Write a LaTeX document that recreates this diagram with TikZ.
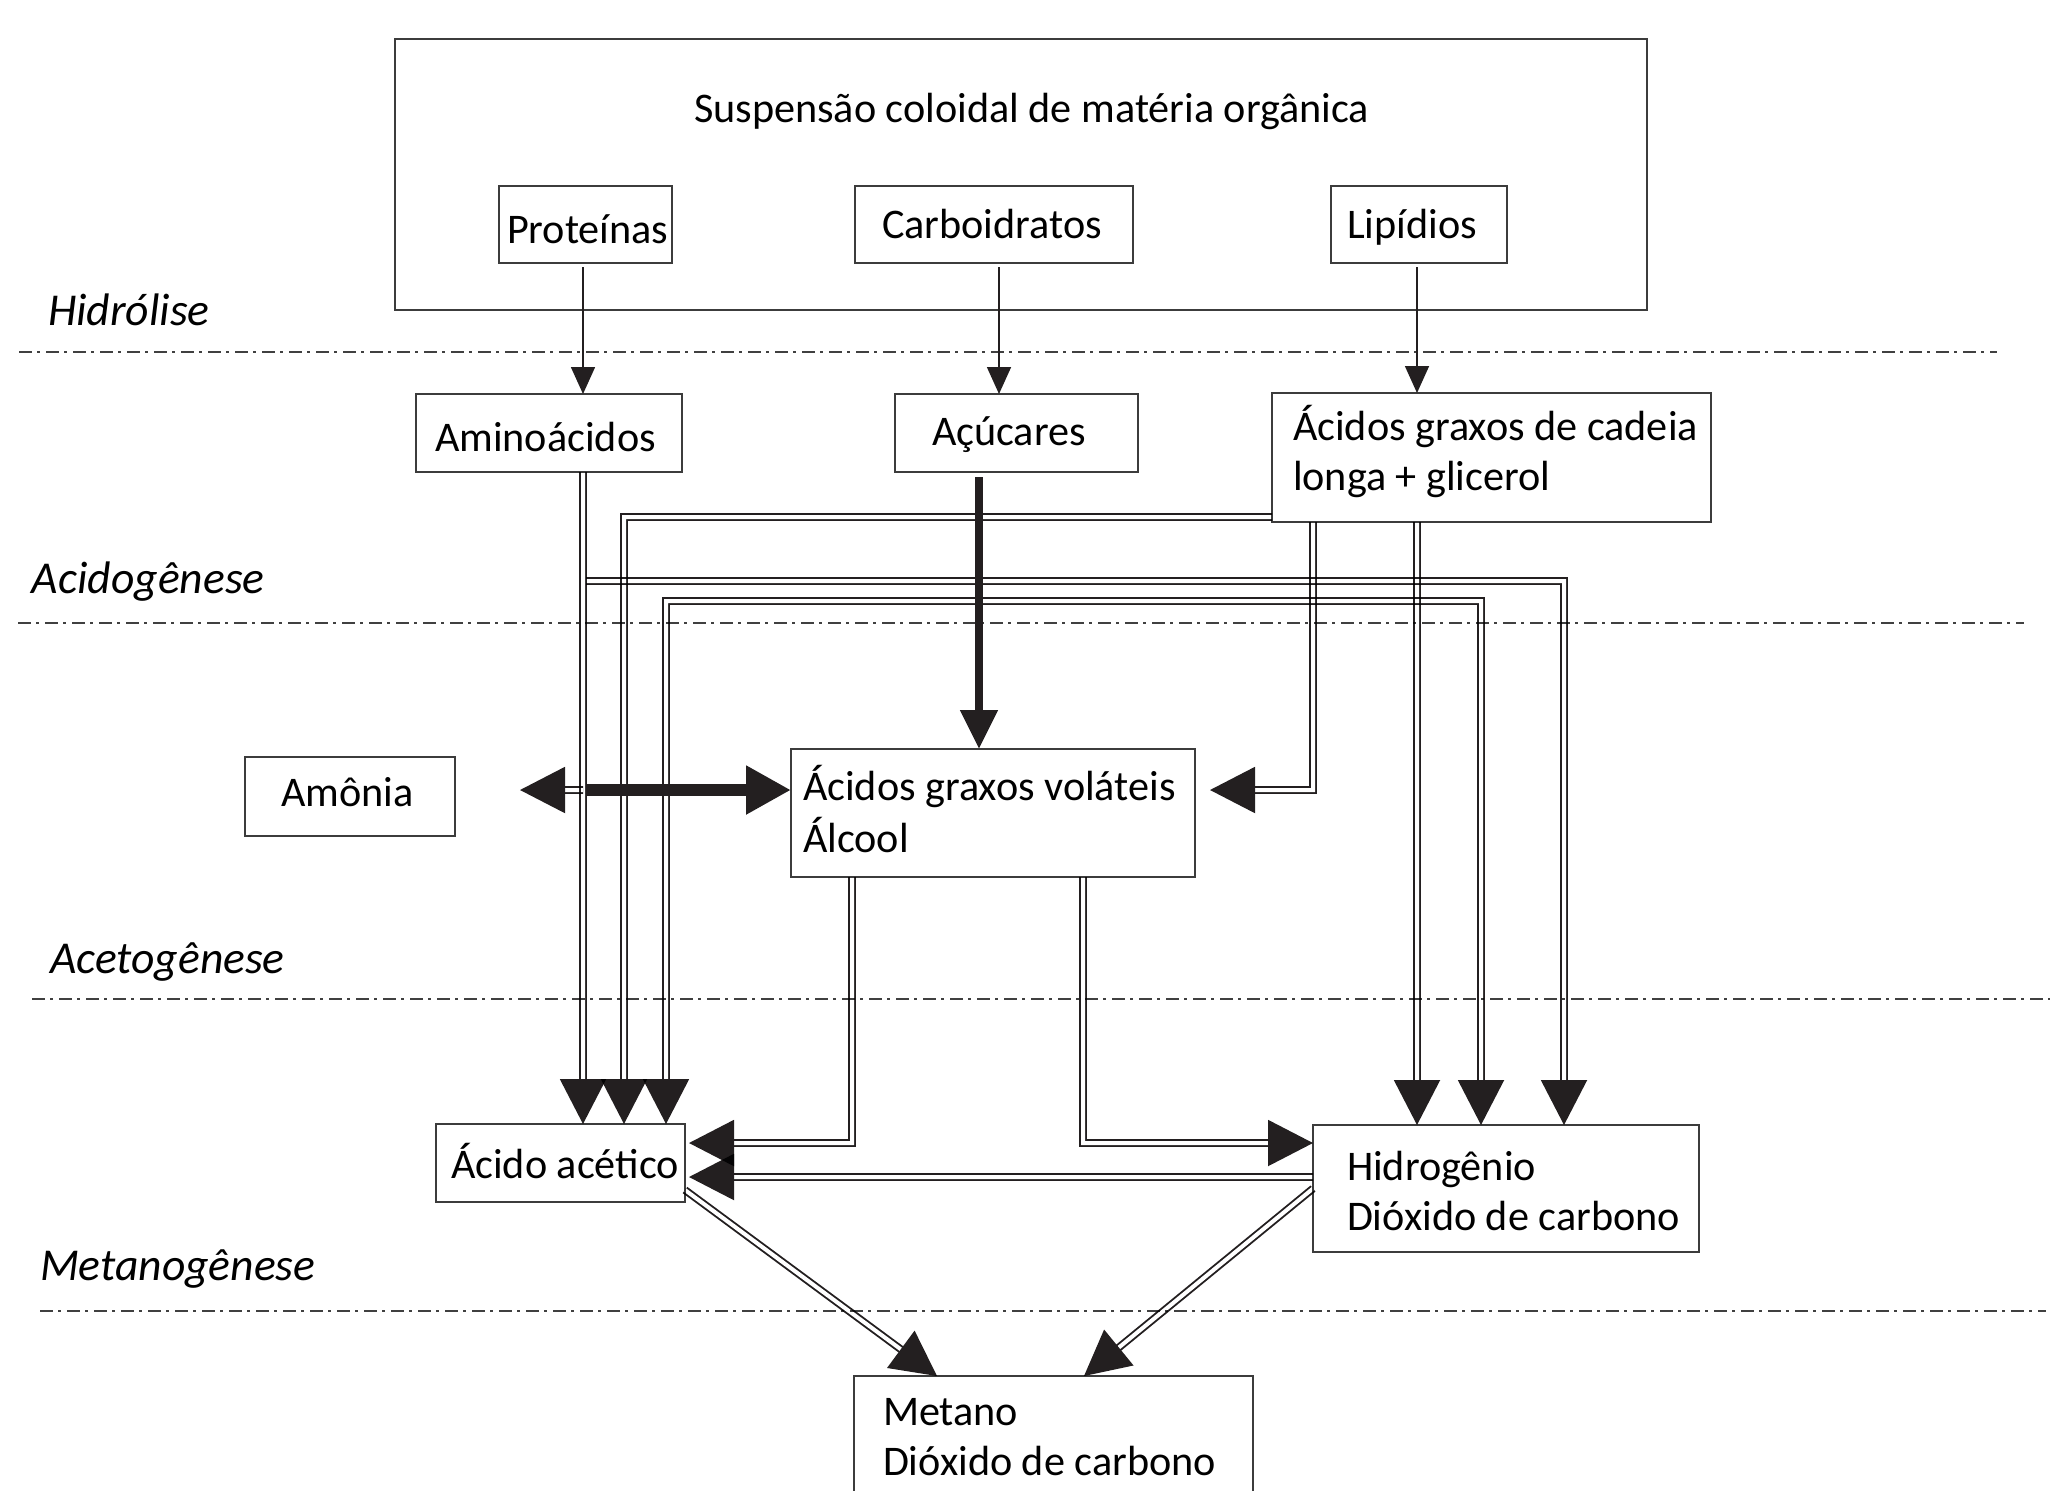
\documentclass[tikz,border=0pt]{standalone}
\usepackage{fontspec}
\setmainfont{Carlito}
\usetikzlibrary{arrows.meta,calc}
\definecolor{linec}{HTML}{231F20}
\definecolor{boxc}{HTML}{3C3C3C}
\definecolor{sepc}{HTML}{404040}
\newcommand\pipe[1]{\begin{scope}[blend mode=multiply]\begin{scope}[transparency group]#1\end{scope}\end{scope}}
\begin{document}
\begin{tikzpicture}[x=0.5pt,y=-0.5pt,
  box/.style={draw=boxc, line width=1pt, inner sep=0pt, outer sep=0pt, rectangle},
  txt/.style={inner sep=0pt, outer sep=0pt, anchor=base west, font=\fontsize{21.1}{25}\selectfont},
  stage/.style={inner sep=0pt, outer sep=0pt, anchor=base west, font=\fontsize{22.8}{27}\selectfont\itshape},
  sepline/.style={draw=sepc, line width=1.35pt, dash pattern=on 6.5pt off 2.5pt on 1.5pt off 3pt},
  sarr/.style={draw=linec, line width=0.8pt, -{Triangle[length=13.5pt,width=12pt]}},
  dbl/.style={draw=linec, line width=0.95pt, double=white, double distance=2pt},
  bigtip/.style={-{Triangle[length=22.5pt,width=23pt]}},
  heavy/.style={draw=linec, line width=#1},
]
\useasboundingbox (0,0) rectangle (2050,1490);

% separators
\draw[sepline] (19,352) -- (1997,352);
\draw[sepline] (18,623) -- (2024,623);
\draw[sepline] (32,999) -- (2050,999);
\draw[sepline] (40,1311) -- (2046,1311);

% stage labels
\node[stage] (s-hid) at (48,325) {Hidrólise};
\node[stage] (s-aci) at (32,593) {Acidogênese};
\node[stage] (s-ace) at (50,973) {Acetogênese};
\node[stage] (s-met) at (40,1280) {Metanogênese};

% boxes
\node[box, line width=1.3pt, minimum width=626pt, minimum height=135.5pt] (outer) at (1021,174.5) {};
\node[box, minimum width=86.5pt, minimum height=38.5pt] (prot) at (585.5,224.5) {};
\node[box, minimum width=139pt, minimum height=38.5pt] (carb) at (994,224.5) {};
\node[box, minimum width=88pt, minimum height=38.5pt] (lip) at (1419,224.5) {};
\node[box, minimum width=133pt, minimum height=39pt] (amino) at (549,433) {};
\node[box, minimum width=121.5pt, minimum height=39pt] (acu) at (1016.5,433) {};
\node[box, minimum width=219.5pt, minimum height=64.5pt] (lc) at (1491.5,457.5) {};
\node[box, minimum width=105pt, minimum height=39.5pt] (amon) at (350,796.5) {};
\node[box, minimum width=202pt, minimum height=64pt] (agv) at (993,813) {};
\node[box, minimum width=124.5pt, minimum height=39pt] (acet) at (560.5,1163) {};
\node[box, minimum width=193pt, minimum height=63.5pt] (hyd) at (1506,1188.5) {};
\node[box, minimum width=199.5pt, minimum height=77pt] (met) at (1053.5,1453) {};

% texts
\node[txt] (t-title) at (694,122) {Suspensão coloidal de matéria orgânica};
\node[txt] (t-prot) at (507,243) {Proteínas};
\node[txt] (t-carb) at (882,238) {Carboidratos};
\node[txt] (t-lip) at (1347,238) {Lipídios};
\node[txt] (t-amino) at (435,451) {Aminoácidos};
\node[txt] (t-acu) at (932,445) {Açúcares};
\node[txt] (t-lc1) at (1293,440) {Ácidos graxos de cadeia};
\node[txt] (t-lc2) at (1293,490) {longa + glicerol};
\node[txt] (t-amon) at (281,806) {Amônia};
\node[txt] (t-agv1) at (803,800) {Ácidos graxos voláteis};
\node[txt] (t-agv2) at (803,852) {Álcool};
\node[txt] (t-acet) at (451,1178) {Ácido acético};
\node[txt] (t-hyd1) at (1347,1180) {Hidrogênio};
\node[txt] (t-hyd2) at (1347,1230) {Dióxido de carbono};
\node[txt] (t-met1) at (883,1425) {Metano};
\node[txt] (t-met2) at (883,1475) {Dióxido de carbono};

% column / row guides
\coordinate (cA1) at (583,0);
\coordinate (cA2) at (624,0);
\coordinate (cA3) at (666,0);
\coordinate (cC) at (999,0);
\coordinate (cS) at (979,0);
\coordinate (cL2) at (1313,0);
\coordinate (cL) at (1417,0);
\coordinate (cH2) at (1481,0);
\coordinate (cH3) at (1564,0);
\coordinate (cV1) at (852,0);
\coordinate (cV2) at (1083,0);
\coordinate (cM1) at (937,0);
\coordinate (cM2) at (1084,0);
\coordinate (rLC) at (0,517);
\coordinate (rAm) at (0,581);
\coordinate (rAc) at (0,601);
\coordinate (rNH) at (0,790);
\coordinate (rT) at (0,1143);
\coordinate (rH) at (0,1177);

% hydrolysis arrows
\draw[sarr, shorten <=2pt] (prot.south -| cA1) -- (amino.north -| cA1);
\draw[sarr, shorten <=2pt] (carb.south -| cC) -- (acu.north -| cC);
\draw[sarr, shorten <=2pt] (lip.south -| cL) -- (lc.north -| cL);

% double connectors
\pipe{\draw[dbl, bigtip] (amino.south -| cA1) -- (acet.north -| cA1);}
\pipe{\draw[dbl, bigtip, shorten <=1.5pt] (cA1 |- rAm) -| (hyd.north -| cH3);}
\pipe{\draw[dbl, bigtip] (lc.west |- rLC) -| (acet.north -| cA2);}
\pipe{\draw[dbl, bigtip] (cS |- rAc) -| (acet.north -| cA3);}
\pipe{\draw[dbl, bigtip] (cS |- rAc) -| (hyd.north -| cH2);}
\pipe{\draw[dbl, bigtip, shorten >=7.5pt] (lc.south -| cL2) |- (agv.east |- rNH);}
\pipe{\draw[dbl, bigtip] (lc.south -| cL) -- (hyd.north -| cL);}
\pipe{\draw[dbl, bigtip, shorten >=2pt] (agv.south -| cV1) |- (acet.east |- rT);}
\pipe{\draw[dbl, bigtip] (agv.south -| cV2) |- (hyd.west |- rT);}
\pipe{\draw[dbl, bigtip, shorten >=2pt] (hyd.west |- rH) -- (acet.east |- rH);}
\pipe{\draw[dbl, bigtip] ([yshift=-13.5pt]acet.east) -- (met.north -| cM1);}
\pipe{\draw[dbl, bigtip] (hyd.west) -- (met.north -| cM2);}

% ammonia exchange
\pipe{\draw[dbl, bigtip, shorten >=32.5pt] (cA1 |- rNH) -- (amon.east |- rNH);}
\draw[heavy=6pt, bigtip, shorten <=1.5pt] (cA1 |- rNH) -- (agv.west |- rNH);

% sugars to volatile acids
\draw[heavy=4pt, -{Triangle[length=19.5pt,width=18pt]}, shorten <=2.5pt] (acu.south -| cS) -- (agv.north -| cS);
\end{tikzpicture}
\end{document}
